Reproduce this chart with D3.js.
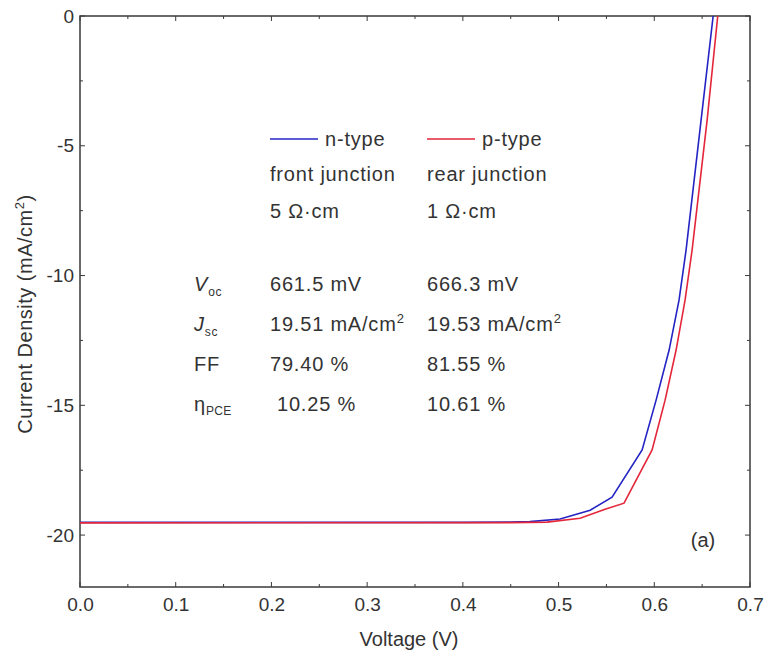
<!DOCTYPE html>
<html>
<head>
<meta charset="utf-8">
<script src="https://cdn.jsdelivr.net/npm/d3@7"></script>
<style>
  html, body { margin: 0; padding: 0; background: #fff; }
  svg text { font-family: "Liberation Sans", Arial, sans-serif; fill: #333; }
</style>
</head>
<body>
<svg id="chart" width="766" height="657"></svg>
<script>
// ---- data ----
const voltageN = [0.0, 0.40, 0.45, 0.470, 0.5016, 0.533, 0.5559, 0.5873, 0.6019, 0.6155, 0.6259, 0.6332, 0.6489, 0.6615];
const currentN = [-19.51, -19.51, -19.50, -19.48, -19.38, -19.04, -18.54, -16.72, -14.80, -12.87, -10.94, -9.02, -4.01, 0.0];
const voltageP = [0.0, 0.45, 0.488, 0.5225, 0.5486, 0.5684, 0.5977, 0.6113, 0.6228, 0.6322, 0.6395, 0.6552, 0.6663];
const currentP = [-19.53, -19.52, -19.50, -19.35, -19.00, -18.77, -16.72, -14.80, -12.87, -10.94, -9.02, -4.01, 0.0];
const xTicks = [0.0, 0.1, 0.2, 0.3, 0.4, 0.5, 0.6, 0.7];
const yTicks = [0, -5, -10, -15, -20];
const seriesNames = ["n-type", "p-type"];
const seriesSub = ["front junction", "rear junction"];
const seriesRes = ["5 \u03A9\u00B7cm", "1 \u03A9\u00B7cm"];
const vocVals = ["661.5 mV", "666.3 mV"];
const jscVals = ["19.51 mA/cm", "19.53 mA/cm"];
const ffVals = ["79.40 %", "81.55 %"];
const pceVals = ["10.25 %", "10.61 %"];
const colors = ["#2424c4", "#e4263a"];

const svg = d3.select("#chart");
const L = 80, R = 750, T = 16, B = 587;
const x = d3.scaleLinear().domain([0, 0.7]).range([L, R]);
const y = d3.scaleLinear().domain([-22, 0]).range([B, T]);
const axisColor = "#3a3a3a";
const fs = 19;      // tick labels
const fa = 20;      // annotation text
const ls = 0.8;     // letter spacing of annotation text

// frame
svg.append("rect").attr("x", L).attr("y", T).attr("width", R - L).attr("height", B - T)
  .attr("fill", "none").attr("stroke", axisColor).attr("stroke-width", 1.5);

const xMinor = d3.range(0, 0.7001, 0.05);
const yMinorAll = d3.range(0, -22.01, -2.5);

// tick marks (inward) on all four sides
const tg = svg.append("g").attr("stroke", axisColor).attr("stroke-width", 1);
xMinor.forEach((v, i) => {
  const len = (i % 2 === 0) ? 5 : 3;
  tg.append("line").attr("x1", x(v)).attr("x2", x(v)).attr("y1", B).attr("y2", B - len);
  tg.append("line").attr("x1", x(v)).attr("x2", x(v)).attr("y1", T).attr("y2", T + len);
});
yMinorAll.forEach((v, i) => {
  const len = (i % 2 === 0) ? 5 : 3;
  tg.append("line").attr("y1", y(v)).attr("y2", y(v)).attr("x1", L).attr("x2", L + len);
  tg.append("line").attr("y1", y(v)).attr("y2", y(v)).attr("x1", R).attr("x2", R - len);
});

// axis labels using d3 axes (ticks hidden, labels only)
const xAxis = d3.axisBottom(x).tickValues(xTicks).tickFormat(d3.format(".1f")).tickSize(0).tickPadding(11);
const gx = svg.append("g").attr("transform", `translate(0,${B})`).call(xAxis);
gx.select(".domain").remove();
gx.selectAll("text").attr("font-size", fs).attr("fill", "#333").style("font-family", "Liberation Sans, Arial, sans-serif");

const yAxis = d3.axisLeft(y).tickValues(yTicks).tickFormat(d => d < 0 ? "-" + Math.abs(d) : String(d)).tickSize(0).tickPadding(6);
const gy = svg.append("g").attr("transform", `translate(${L},0)`).call(yAxis);
gy.select(".domain").remove();
gy.selectAll("text").attr("font-size", fs).attr("fill", "#333").style("font-family", "Liberation Sans, Arial, sans-serif");

// axis titles
svg.append("text").attr("x", 409).attr("y", 646).attr("text-anchor", "middle")
  .attr("font-size", fa).text("Voltage (V)");
const yl = svg.append("text").attr("transform", `translate(32,314) rotate(-90)`)
  .attr("text-anchor", "middle").attr("font-size", fa).attr("letter-spacing", 0.5);
yl.append("tspan").text("Current Density (mA/cm");
yl.append("tspan").attr("dy", -8).attr("font-size", 13).text("2");
yl.append("tspan").attr("dy", 8).text(")");

// curves
const line = d3.line().x(d => x(d[0])).y(d => y(d[1]));
const dataN = voltageN.map((v, i) => [v, currentN[i]]);
const dataP = voltageP.map((v, i) => [v, currentP[i]]);
svg.append("path").datum(dataN).attr("d", line).attr("fill", "none")
  .attr("stroke", colors[0]).attr("stroke-width", 1.6);
svg.append("path").datum(dataP).attr("d", line).attr("fill", "none")
  .attr("stroke", colors[1]).attr("stroke-width", 1.6);

// legend / annotation
const colX = [270, 427];
const legY = 139;
function txt(xp, yp) {
  return svg.append("text").attr("x", xp).attr("y", yp).attr("font-size", fa).attr("letter-spacing", ls);
}
[0, 1].forEach(i => {
  svg.append("line").attr("x1", colX[i]).attr("x2", colX[i] + 48).attr("y1", legY).attr("y2", legY)
    .attr("stroke", colors[i]).attr("stroke-width", 1.6);
  txt(colX[i] + 55, legY + 7).text(seriesNames[i]);
  txt(colX[i], 181).text(seriesSub[i]);
  txt(colX[i], 218).text(seriesRes[i]);
  txt(colX[i], 291).text(vocVals[i]);
  const j = txt(colX[i], 331);
  j.append("tspan").text(jscVals[i]);
  j.append("tspan").attr("dy", -8).attr("font-size", 13).text("2");
  txt(colX[i], 371).text(ffVals[i]);
  txt(colX[i] + (i === 0 ? 7 : 0), 411).text(pceVals[i]);
});
// parameter names
const v = txt(194, 291);
v.append("tspan").attr("font-style", "italic").text("V");
v.append("tspan").attr("dy", 5).attr("font-size", 12).text("oc");
const jj = txt(194, 331);
jj.append("tspan").attr("font-style", "italic").text("J");
jj.append("tspan").attr("dy", 5).attr("font-size", 12).text("sc");
txt(194, 371).text("FF");
const eta = txt(194, 411);
eta.append("tspan").text("\u03B7");
eta.append("tspan").attr("dy", 4).attr("font-size", 12).attr("letter-spacing", 0.3).text("PCE");

svg.append("text").attr("x", 703).attr("y", 547).attr("text-anchor", "middle").attr("font-size", fa).text("(a)");
</script>
</body>
</html>
